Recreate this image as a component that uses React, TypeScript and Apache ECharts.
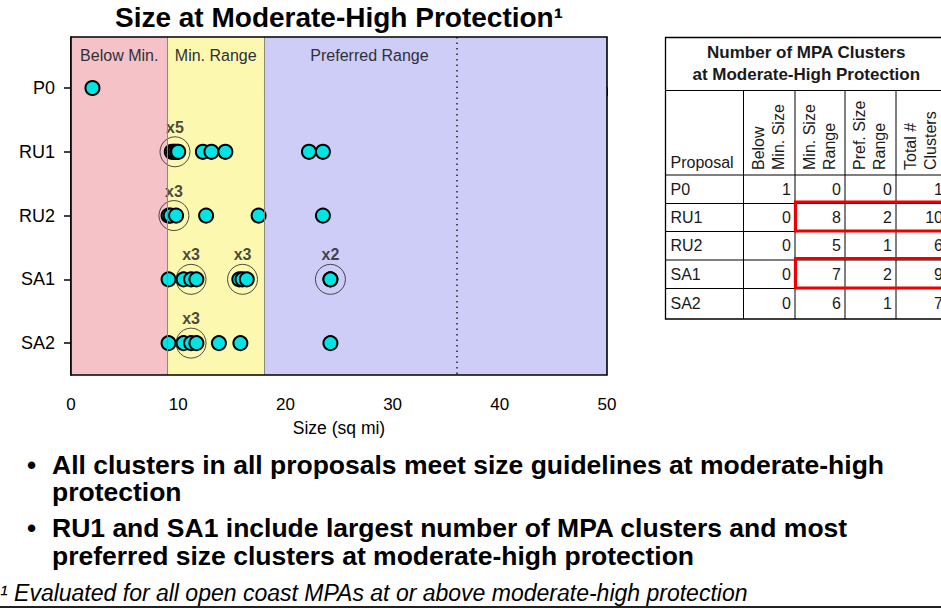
import React, { useEffect, useRef } from "react";
import * as echarts from "echarts";

// ---------- data ----------
const proposals = ["P0", "RU1", "RU2", "SA1", "SA2"];
const p0Sizes = [2.0];
const ru1Sizes = [9.4, 9.6, 9.7, 9.9, 10.0, 12.3, 13.1, 14.4, 22.2, 23.5];
const ru2Sizes = [9.1, 9.3, 9.8, 12.6, 17.5, 23.5];
const sa1Sizes = [9.1, 10.5, 11.2, 11.7, 15.7, 16.0, 16.4, 24.2, 24.2];
const sa2Sizes = [9.1, 10.5, 11.2, 11.7, 13.8, 15.8, 24.2];
const sizesByProposal = [p0Sizes, ru1Sizes, ru2Sizes, sa1Sizes, sa2Sizes];

const clusterProposals = ["RU1", "RU2", "SA1", "SA1", "SA1", "SA2"];
const clusterCenters = [9.7, 9.6, 11.2, 16.0, 24.2, 11.2];
const clusterCounts = [5, 3, 3, 3, 2, 3];

const bandEdges = [0, 9, 18, 50];
const bandLabels = ["Below Min.", "Min. Range", "Preferred Range"];
const doubleMaxSize = 36;
const xTickValues = [0, 10, 20, 30, 40, 50];

const chartTitle = "Size at Moderate-High Protection\u00b9";
const xAxisTitle = "Size (sq mi)";
const tableTitle = ["Number of MPA Clusters", "at Moderate-High Protection"];
const tableFirstHeader = "Proposal";
const tableHeaders = [
  ["Below", "Min. Size"],
  ["Min. Size", "Range"],
  ["Pref. Size", "Range"],
  ["Total #", "Clusters"],
];
const highlightedProposals = ["RU1", "SA1"];
const bulletLines = [
  ["All clusters in all proposals meet size guidelines at moderate-high", "protection"],
  ["RU1 and SA1 include largest number of MPA clusters and most", "preferred size clusters at moderate-high protection"],
];
const footnote = "\u00b9 Evaluated for all open coast MPAs at or above moderate-high protection";

// ---------- styles / layout ----------
const FONT = '"Liberation Sans", Arial, Helvetica, sans-serif';
const BAND_COLORS = ["#f5c3c7", "#fcf8b0", "#cdcdf8"];
const GRID = { left: 71, right: 334, top: 37, bottom: 235 };
const TCOL = [665.5, 743.5, 795, 845, 896, 947];
const TROW = [37.5, 90.5, 175, 203.5, 231.5, 260, 288.5, 319];

function countRow(sizes: number[]) {
  const below = sizes.filter((s) => s < bandEdges[1]).length;
  const minR = sizes.filter((s) => s >= bandEdges[1] && s < bandEdges[2]).length;
  const pref = sizes.filter((s) => s >= bandEdges[2]).length;
  return [below, minR, pref, sizes.length];
}

function buildTableGraphics() {
  const els: any[] = [];
  const txt = (x: number, y: number, text: string, extra: any = {}, rot = 0) => ({
    type: "text",
    x,
    y,
    rotation: rot,
    z: 20,
    style: {
      text,
      fill: "#1a1a1a",
      fontFamily: FONT,
      fontSize: 16,
      align: "left",
      verticalAlign: "middle",
      ...extra,
    },
  });
  els.push({
    type: "rect",
    z: 18,
    shape: { x: TCOL[0], y: TROW[0], width: TCOL[5] - TCOL[0], height: TROW[7] - TROW[0] },
    style: { fill: "#ffffff", stroke: "#000", lineWidth: 1.3 },
  });
  for (let i = 1; i < TROW.length - 1; i++) {
    els.push({
      type: "line",
      z: 19,
      shape: { x1: TCOL[0], y1: TROW[i], x2: TCOL[5], y2: TROW[i] },
      style: { stroke: "#000", lineWidth: 1 },
    });
  }
  for (let j = 1; j < TCOL.length; j++) {
    els.push({
      type: "line",
      z: 19,
      shape: { x1: TCOL[j], y1: TROW[1], x2: TCOL[j], y2: TROW[7] },
      style: { stroke: "#000", lineWidth: 1 },
    });
  }
  const tcx = (TCOL[0] + TCOL[5]) / 2;
  els.push(txt(tcx, 52, tableTitle[0], { fontWeight: "bold", fontSize: 17, align: "center" }));
  els.push(txt(tcx, 74, tableTitle[1], { fontWeight: "bold", fontSize: 17, align: "center" }));
  els.push(txt(TCOL[0] + 5, 162, tableFirstHeader));
  tableHeaders.forEach((h, j) => {
    const w = TCOL[j + 2] - TCOL[j + 1];
    const c = TCOL[j + 1] + w / 2;
    els.push(txt(c - 11, 170, h[0], {}, Math.PI / 2));
    els.push(txt(c + 9, 170, h[1], {}, Math.PI / 2));
  });
  proposals.forEach((p, i) => {
    const yc = (TROW[i + 2] + TROW[i + 3]) / 2;
    els.push(txt(TCOL[0] + 5, yc, p));
    const vals = countRow(sizesByProposal[i]);
    vals.forEach((v, j) => {
      els.push(txt(TCOL[j + 2] - 4, yc, String(v), { align: "right" }));
    });
    if (highlightedProposals.includes(p)) {
      els.push({
        type: "rect",
        z: 21,
        shape: { x: TCOL[2] + 0.5, y: TROW[i + 2] - 1.5, width: 160, height: TROW[i + 3] - TROW[i + 2] + 1 },
        style: { fill: "none", stroke: "#ee0000", lineWidth: 3.2 },
      });
    }
  });
  return els;
}

function buildTextGraphics() {
  const els: any[] = [];
  // plot frame
  els.push({
    type: "rect",
    z: 15,
    silent: true,
    shape: {
      x: GRID.left,
      y: GRID.top,
      width: 941 - GRID.left - GRID.right,
      height: 610 - GRID.top - GRID.bottom,
    },
    style: { fill: "none", stroke: "#000", lineWidth: 1.6 },
  });
  els.push({
    type: "text",
    x: GRID.left + (941 - GRID.left - GRID.right) / 2,
    y: 17,
    style: {
      text: chartTitle,
      fill: "#000",
      fontFamily: FONT,
      fontSize: 28,
      fontWeight: "bold",
      align: "center",
      verticalAlign: "middle",
    },
  });
  const bulletY = [[465, 492], [528, 556]];
  bulletLines.forEach((lines, b) => {
    els.push({
      type: "text",
      x: 27,
      y: bulletY[b][0],
      style: { text: "\u2022", fill: "#000", fontFamily: FONT, fontSize: 26, fontWeight: "bold", align: "left", verticalAlign: "middle" },
    });
    lines.forEach((line, k) => {
      els.push({
        type: "text",
        x: 52,
        y: bulletY[b][k],
        style: { text: line, fill: "#000", fontFamily: FONT, fontSize: 26.5, fontWeight: "bold", align: "left", verticalAlign: "middle" },
      });
    });
  });
  els.push({
    type: "text",
    x: 0,
    y: 593,
    style: { text: footnote, fill: "#000", fontFamily: FONT, fontSize: 23, fontStyle: "italic", align: "left", verticalAlign: "middle" },
  });
  els.push({
    type: "line",
    shape: { x1: 0, y1: 607, x2: 941, y2: 607 },
    style: { stroke: "#222", lineWidth: 2 },
  });
  return els;
}

export default function App() {
  const ref = useRef<HTMLDivElement>(null);
  useEffect(() => {
    document.body.style.margin = "0";
    if (!ref.current) return;
    const chart = echarts.init(ref.current, undefined, { renderer: "svg" });

    const points = sizesByProposal.flatMap((arr, i) => arr.map((s) => [s, i]));
    const rings = clusterCenters.map((c, k) => [c, proposals.indexOf(clusterProposals[k])]);
    const yVals = proposals.map((_, i) => i);

    const bandData = bandLabels.map((name, i) => [
      {
        xAxis: bandEdges[i],
        name,
        itemStyle: { color: BAND_COLORS[i] },
        label: i === 2 ? { offset: [-66, 0] } : {},
      },
      { xAxis: bandEdges[i + 1] },
    ]);

    chart.setOption({
      animation: false,
      textStyle: { fontFamily: FONT },
      grid: { ...GRID, containLabel: false },
      xAxis: {
        type: "value",
        min: 0,
        max: 50,
        interval: 10,
        position: "bottom",
        axisLine: { show: true, lineStyle: { color: "#000", width: 1.5 } },
        axisTick: { show: true, length: 8, customValues: xTickValues, lineStyle: { color: "#000", width: 1.5 } },
        axisLabel: { fontSize: 17, color: "#000", margin: 21, fontFamily: FONT },
        splitLine: { show: false },
        name: xAxisTitle,
        nameLocation: "middle",
        nameGap: 44,
        nameTextStyle: { fontSize: 17.5, color: "#000", fontFamily: FONT },
      },
      yAxis: {
        type: "value",
        inverse: true,
        min: -0.8,
        max: 4.5,
        splitLine: { show: false },
        position: "left",
        axisLine: { show: true, lineStyle: { color: "#000", width: 1.5 } },
        axisTick: { show: true, length: 7, customValues: yVals, lineStyle: { color: "#000", width: 1.5 } },
        axisLabel: {
          customValues: yVals,
          formatter: (v: number) => proposals[Math.round(v)] ?? "",
          fontSize: 18,
          color: "#000",
          margin: 16,
          fontFamily: FONT,
        },
      },
      series: [
        {
          type: "scatter",
          name: "bands",
          data: [],
          z: 1,
          silent: true,
          markArea: {
            silent: true,
            label: {
              show: true,
              position: "insideTop",
              distance: 10,
              color: "#30303a",
              fontSize: 16,
              fontFamily: FONT,
            },
            data: bandData,
          },
          markLine: {
            silent: true,
            symbol: ["none", "none"],
            label: { show: false },
            data: [
              { xAxis: bandEdges[1], lineStyle: { color: "#8a8a7a", width: 1, type: "solid" } },
              { xAxis: bandEdges[2], lineStyle: { color: "#8a8a7a", width: 1, type: "solid" } },
              { xAxis: doubleMaxSize, lineStyle: { color: "#222", width: 1.5, type: [1.5, 4] } },
            ],
          },
        },
        {
          type: "scatter",
          name: "clusters",
          data: points,
          z: 3,
          symbol: "circle",
          symbolSize: 14,
          itemStyle: { color: "#00e4e4", borderColor: "#000", borderWidth: 2, opacity: 1 },
        },
        {
          type: "scatter",
          name: "rings",
          data: rings,
          z: 4,
          symbol: "circle",
          symbolSize: 30,
          silent: true,
          itemStyle: { color: "rgba(0,0,0,0)", borderColor: "#222", borderWidth: 1 },
          label: {
            show: true,
            position: "top",
            distance: 1,
            formatter: (p: any) => "x" + clusterCounts[p.dataIndex],
            fontSize: 16,
            fontWeight: "bold",
            color: "#1a1a1a",
            fontFamily: FONT,
          },
        },
      ],
      graphic: [...buildTableGraphics(), ...buildTextGraphics()],
    });
    return () => chart.dispose();
  }, []);
  return <div ref={ref} style={{ width: 941, height: 610 }} />;
}
